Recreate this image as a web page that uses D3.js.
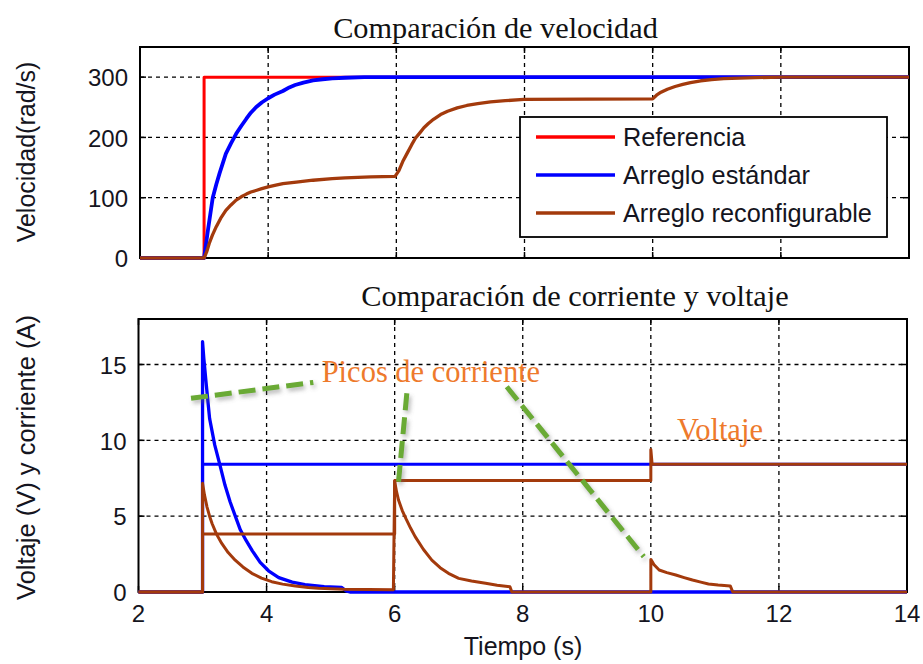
<!DOCTYPE html>
<html>
<head>
<meta charset="utf-8">
<script src="https://cdn.jsdelivr.net/npm/d3@7/dist/d3.min.js"></script>
<style>
  html, body { margin: 0; padding: 0; background: #fff; }
  svg { display: block; }
</style>
</head>
<body>
<svg id="chart" width="923" height="664"></svg>
<script>
// ---- axis ticks ----
const timeTicks = [2, 4, 6, 8, 10, 12, 14];
const speedTicks = [0, 100, 200, 300];
const currentTicks = [0, 5, 10, 15];

// ---- speed comparison [time (s), speed (rad/s)] ----
const referenceSpeed = [[2, 0], [3, 0], [3, 300], [14, 300]];
const standardSpeed = [
  [2, 0], [3, 0], [3.06, 46], [3.135, 100], [3.19, 122], [3.24, 140], [3.34, 173],
  [3.42, 190], [3.5, 206], [3.58, 219], [3.66, 231], [3.73, 241], [3.81, 250],
  [3.9, 258], [4.0, 265], [4.1, 271], [4.23, 277], [4.33, 283], [4.42, 287],
  [4.55, 291], [4.7, 294.5], [4.85, 296.5], [5.0, 298], [5.2, 299], [5.5, 300], [14, 300]
];
const reconfigSpeed = [
  [2, 0], [3, 0], [3.04, 10], [3.08, 24], [3.13, 38], [3.19, 52], [3.26, 66],
  [3.34, 79], [3.42, 88], [3.5, 96], [3.58, 101.5], [3.66, 106], [3.73, 109.5],
  [3.81, 112], [3.9, 115], [4.0, 118], [4.12, 121], [4.23, 123.5], [4.44, 126],
  [4.7, 129], [5.0, 131.5], [5.2, 133], [5.6, 134.5], [5.98, 135.5], [6.04, 145],
  [6.1, 160], [6.17, 174], [6.24, 188], [6.3, 199], [6.37, 208], [6.43, 216],
  [6.5, 223], [6.58, 230], [6.69, 238], [6.8, 243.5], [6.95, 249], [7.1, 253],
  [7.27, 256], [7.47, 259], [7.7, 261], [7.99, 263], [10.0, 264], [10.06, 270],
  [10.13, 275], [10.23, 280], [10.35, 284.5], [10.47, 288], [10.59, 291],
  [10.75, 294], [10.92, 296], [11.11, 297.5], [11.35, 298.5], [11.6, 299.2],
  [12, 300], [14, 300]
];

// ---- current and voltage [time (s), value] ----
const standardVoltage = [[2, 0], [3, 0], [3, 8.42], [14, 8.42]];
const standardCurrent = [
  [2, 0], [3, 0], [3, 16.5], [3.02, 15.4], [3.06, 13.6], [3.11, 11.45], [3.19, 9.7],
  [3.27, 8.4], [3.35, 7.05], [3.43, 5.95], [3.52, 4.9], [3.59, 4.1], [3.68, 3.4],
  [3.78, 2.7], [3.9, 1.95], [4.03, 1.4], [4.19, 0.95], [4.4, 0.65], [4.6, 0.48],
  [4.9, 0.36], [5.17, 0.3], [5.25, 0.05], [5.3, 0], [14, 0]
];
const reconfigVoltage = [
  [2, 0], [3, 0], [3, 3.82], [6, 3.82], [6, 7.35], [10, 7.35], [10, 9.4],
  [10.02, 8.42], [14, 8.42]
];
const reconfigCurrent = [
  [2, 0], [3, 0], [3, 7.17], [3.03, 6.4], [3.07, 5.6], [3.11, 5.0], [3.15, 4.5],
  [3.22, 3.8], [3.3, 3.2], [3.4, 2.6], [3.51, 2.1], [3.63, 1.65], [3.77, 1.23],
  [3.92, 0.92], [4.08, 0.68], [4.25, 0.52], [4.45, 0.4], [4.65, 0.3], [4.81, 0.24],
  [5.2, 0.18], [5.98, 0.15],
  [6, 7.3], [6.03, 6.6], [6.06, 6.06], [6.12, 5.35], [6.18, 4.8], [6.25, 4.2],
  [6.32, 3.65], [6.45, 2.8], [6.58, 2.1], [6.71, 1.6], [6.84, 1.23], [7.0, 0.9],
  [7.2, 0.72], [7.42, 0.57], [7.6, 0.45], [7.8, 0.35], [7.83, 0],
  [10, 0], [10, 2.15], [10.05, 1.8], [10.13, 1.45], [10.25, 1.28], [10.39, 1.12],
  [10.52, 0.95], [10.65, 0.79], [10.78, 0.65], [10.9, 0.53], [11.05, 0.46],
  [11.24, 0.4], [11.28, 0], [14, 0]
];

// ---- annotations (in current/voltage axis units) ----
const peakPointers = [
  [[2.82, 12.77], [4.73, 13.82]],
  [[6.19, 13.1], [6.06, 7.27]],
  [[7.75, 13.53], [9.89, 2.33]]
];
const noteLabels = ["Picos de corriente", "Voltaje"];
const noteAnchors = [[4.86, 13.84], [10.41, 10.0]];

const legendLabels = ["Referencia", "Arreglo estándar", "Arreglo reconfigurable"];
const titles = ["Comparación de velocidad", "Comparación de corriente y voltaje"];

// ---- styling ----
const RED = "#ff0000", BLUE = "#0000ff", BROWN = "#a33a0c";
const SANS = "'Liberation Sans', Arial, sans-serif";
const SERIF = "'Liberation Serif', 'Times New Roman', serif";
const INK = "#141420";

const svg = d3.select("#chart");
svg.append("rect").attr("width", 923).attr("height", 664).attr("fill", "#fff");

const defs = svg.append("defs");
const shadow = defs.append("filter").attr("id", "shade")
  .attr("x", "-20%").attr("y", "-20%").attr("width", "140%").attr("height", "140%");
shadow.append("feDropShadow").attr("dx", 2).attr("dy", 3).attr("stdDeviation", 2.2)
  .attr("flood-color", "#666").attr("flood-opacity", 0.45);

function panel(opts) {
  const x = d3.scaleLinear().domain([2, 14]).range([opts.left, opts.right]);
  const y = d3.scaleLinear().domain(opts.yDomain).range([opts.bottom, opts.top]);
  const g = svg.append("g");

  // dashed grid
  const grid = g.append("g").attr("stroke", "#000").attr("stroke-width", 1.3)
    .attr("stroke-dasharray", "4,4");
  timeTicks.filter(t => t > 2 && t < 14).forEach(t => {
    grid.append("line").attr("x1", x(t)).attr("x2", x(t))
      .attr("y1", opts.top).attr("y2", opts.bottom);
  });
  opts.yTicks.filter(v => v > opts.yDomain[0] && v < opts.yDomain[1]).forEach(v => {
    grid.append("line").attr("x1", opts.left).attr("x2", opts.right)
      .attr("y1", y(v)).attr("y2", y(v));
  });

  // inward ticks on all four sides
  const tk = g.append("g").attr("stroke", "#000").attr("stroke-width", 1.5);
  const L = 6;
  timeTicks.forEach(t => {
    tk.append("line").attr("x1", x(t)).attr("x2", x(t)).attr("y1", opts.bottom).attr("y2", opts.bottom - L);
    tk.append("line").attr("x1", x(t)).attr("x2", x(t)).attr("y1", opts.top).attr("y2", opts.top + L);
  });
  opts.yTicks.forEach(v => {
    tk.append("line").attr("x1", opts.left).attr("x2", opts.left + L).attr("y1", y(v)).attr("y2", y(v));
    tk.append("line").attr("x1", opts.right).attr("x2", opts.right - L).attr("y1", y(v)).attr("y2", y(v));
  });

  // y tick labels
  g.append("g").selectAll("text").data(opts.yTicks).join("text")
    .attr("x", opts.left - 12).attr("y", v => y(v) + 9.3)
    .attr("text-anchor", "end").attr("font-family", SANS).attr("font-size", 24)
    .attr("fill", INK).text(d => d);

  // frame
  g.append("rect").attr("x", opts.left).attr("y", opts.top)
    .attr("width", opts.right - opts.left).attr("height", opts.bottom - opts.top)
    .attr("fill", "none").attr("stroke", "#000").attr("stroke-width", 2);

  // title
  svg.append("text").attr("x", opts.titleX).attr("y", opts.titleY)
    .attr("text-anchor", "middle").attr("font-family", SERIF).attr("font-size", 30.3)
    .attr("fill", "#111").text(opts.title);

  // y label
  svg.append("text")
    .attr("transform", `translate(${opts.labelX},${(opts.top + opts.bottom) / 2 + opts.labelShift}) rotate(-90)`)
    .attr("text-anchor", "middle").attr("font-family", SANS).attr("font-size", opts.labelSize)
    .attr("fill", INK).text(opts.yLabel);

  const line = d3.line().x(d => x(d[0])).y(d => y(d[1]));
  const plot = svg.append("g");
  opts.series.forEach(s => {
    plot.append("path").datum(s.data).attr("d", line)
      .attr("fill", "none").attr("stroke", s.color).attr("stroke-width", s.width)
      .attr("stroke-linejoin", "round").attr("stroke-linecap", "butt");
  });
  return { x, y };
}

// speed panel
const speedPanel = panel({
  left: 140, right: 909, top: 47, bottom: 258,
  yDomain: [0, 350], yTicks: speedTicks,
  title: titles[0], titleX: 495.5, titleY: 38,
  yLabel: "Velocidad(rad/s)", labelX: 35, labelShift: -0.5, labelSize: 25,
  series: [
    { data: referenceSpeed, color: RED, width: 3 },
    { data: standardSpeed, color: BLUE, width: 3.8 },
    { data: reconfigSpeed, color: BROWN, width: 3.3 }
  ]
});

// legend
const lg = svg.append("g");
lg.append("rect").attr("x", 520).attr("y", 117).attr("width", 367).attr("height", 120)
  .attr("fill", "#fff").attr("stroke", "#000").attr("stroke-width", 1.8);
[RED, BLUE, BROWN].forEach((c, i) => {
  const yy = 137 + i * 38;
  lg.append("line").attr("x1", 536).attr("x2", 615).attr("y1", yy).attr("y2", yy)
    .attr("stroke", c).attr("stroke-width", 3.3);
  lg.append("text").attr("x", 623).attr("y", yy + 9).attr("font-family", SANS)
    .attr("font-size", 25.3).attr("fill", INK).text(legendLabels[i]);
});

// current / voltage panel
const cvPanel = panel({
  left: 138.5, right: 907, top: 319, bottom: 592,
  yDomain: [0, 18], yTicks: currentTicks,
  title: titles[1], titleX: 575, titleY: 306,
  yLabel: "Voltaje (V) y corriente (A)", labelX: 35, labelShift: 2, labelSize: 25.5,
  series: [
    { data: standardVoltage, color: BLUE, width: 3 },
    { data: standardCurrent, color: BLUE, width: 3.3 },
    { data: reconfigVoltage, color: BROWN, width: 3 },
    { data: reconfigCurrent, color: BROWN, width: 3 }
  ]
});

// x tick labels and axis title
svg.append("g").selectAll("text").data(timeTicks).join("text")
  .attr("x", d => cvPanel.x(d)).attr("y", 622)
  .attr("text-anchor", "middle").attr("font-family", SANS).attr("font-size", 24)
  .attr("fill", INK).text(d => d);
svg.append("text").attr("x", 523).attr("y", 655).attr("text-anchor", "middle")
  .attr("font-family", SANS).attr("font-size", 25).attr("fill", INK).text("Tiempo (s)");

// annotation pointers and notes
const ann = svg.append("g").attr("filter", "url(#shade)");
peakPointers.forEach(p => {
  ann.append("line")
    .attr("x1", cvPanel.x(p[0][0])).attr("y1", cvPanel.y(p[0][1]))
    .attr("x2", cvPanel.x(p[1][0])).attr("y2", cvPanel.y(p[1][1]))
    .attr("stroke", "#6aaa35").attr("stroke-width", 5).attr("stroke-dasharray", "17,7");
});
noteLabels.forEach((t, i) => {
  svg.append("text").attr("x", cvPanel.x(noteAnchors[i][0])).attr("y", cvPanel.y(noteAnchors[i][1]))
    .attr("font-family", SERIF).attr("font-size", 30.5).attr("fill", "#ee7a2c").text(t);
});
</script>
</body>
</html>
